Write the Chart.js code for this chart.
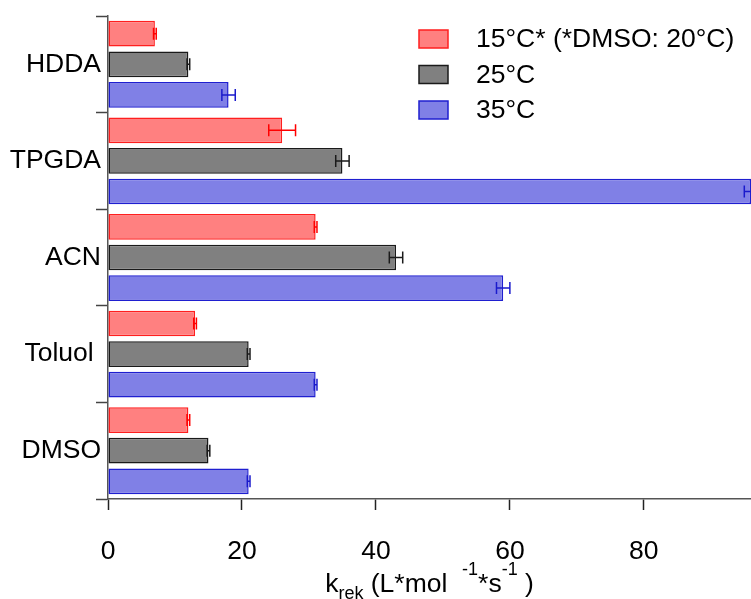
<!DOCTYPE html>
<html>
<head>
<meta charset="utf-8">
<script src="https://cdn.jsdelivr.net/npm/chart.js@4.4.0/dist/chart.umd.min.js"></script>
<style>
  html, body { margin: 0; padding: 0; background: #fff; }
  #wrap { width: 751px; height: 599px; }
</style>
</head>
<body>
<div id="wrap"><canvas id="rateChart" width="751" height="599"></canvas></div>
<script>
// Solvents and rate constants k_rek per temperature
const solvents = ['HDDA', 'TPGDA', 'ACN', 'Toluol ', 'DMSO'];
const k15 = [7, 26, 31, 13, 12];
const k25 = [12, 35, 43, 21, 15];
const k35 = [18, 96, 59, 31, 21];
// standard deviations
const err15 = [0.2, 2, 0.2, 0.2, 0.2];
const err25 = [0.2, 1, 1, 0.2, 0.2];
const err35 = [1, 1, 1, 0.2, 0.2];
const xTicks = [0, 20, 40, 60, 80];
const xMax = 96;

const FONT = "'Liberation Sans', Arial, Helvetica, sans-serif";
const SIZE = 26.5;
Chart.defaults.font.family = FONT;
Chart.defaults.color = '#000';

// horizontal error bars with end caps
const errorBars = {
    id: 'errorBars',
    afterDatasetsDraw(chart) {
        const { ctx, chartArea: area } = chart;
        const x = chart.scales.x;
        ctx.save();
        ctx.beginPath();
        ctx.rect(area.left, area.top, area.right - area.left, area.bottom - area.top);
        ctx.clip();
        chart.data.datasets.forEach((ds, i) => {
            chart.getDatasetMeta(i).data.forEach((bar, j) => {
                const v = ds.data[j], e = ds.errors[j];
                const x0 = x.getPixelForValue(v - e);
                const x1 = x.getPixelForValue(v + e);
                const y = bar.y, h = 6;
                ctx.strokeStyle = ds.errColor;
                ctx.lineWidth = 1.5;
                ctx.beginPath();
                ctx.moveTo(x0, y); ctx.lineTo(x1, y);
                ctx.moveTo(x0, y - h); ctx.lineTo(x0, y + h);
                ctx.moveTo(x1, y - h); ctx.lineTo(x1, y + h);
                ctx.stroke();
            });
        });
        ctx.restore();
    }
};

// legend in the upper right of the plot
const legendBox = {
    id: 'legendBox',
    afterDraw(chart) {
        const ctx = chart.ctx;
        ctx.save();
        ctx.font = SIZE + 'px ' + FONT;
        ctx.textBaseline = 'middle';
        ctx.textAlign = 'left';
        chart.data.datasets.forEach((ds, i) => {
            const cy = 39 + i * 35.5;
            ctx.fillStyle = ds.backgroundColor;
            ctx.fillRect(419, cy - 9, 29, 18);
            ctx.strokeStyle = ds.borderColor;
            ctx.lineWidth = 1.5;
            ctx.strokeRect(419, cy - 9, 29, 18);
            ctx.fillStyle = '#000';
            ctx.fillText(ds.label, 476, cy + 1);
        });
        ctx.restore();
    }
};

// x axis title with subscript and superscripts
const axisTitle = {
    id: 'axisTitle',
    afterDraw(chart) {
        const ctx = chart.ctx;
        const area = chart.chartArea;
        const runs = [
            { t: 'k', s: SIZE, dy: 0 },
            { t: 'rek', s: 18, dy: 7 },
            { t: ' (L*mol  ', s: SIZE, dy: 0 },
            { t: '-1', s: 18, dy: -17 },
            { t: '*s', s: SIZE, dy: 0 },
            { t: '-1', s: 18, dy: -17 },
            { t: ' )', s: SIZE, dy: 0 }
        ];
        ctx.save();
        ctx.fillStyle = '#000';
        ctx.textBaseline = 'alphabetic';
        let total = 0;
        runs.forEach(r => { ctx.font = r.s + 'px ' + FONT; r.w = ctx.measureText(r.t).width; total += r.w; });
        let cx = (area.left + area.right) / 2 - total / 2;
        const base = 592;
        runs.forEach(r => {
            ctx.font = r.s + 'px ' + FONT;
            ctx.fillText(r.t, cx, base + r.dy);
            cx += r.w;
        });
        ctx.restore();
    }
};

const ctx = document.getElementById('rateChart').getContext('2d');
const rateChart = new Chart(ctx, {
    type: 'bar',
    data: {
        labels: solvents,
        datasets: [
            { label: '15°C* (*DMSO: 20°C)', data: k15, errors: err15,
              backgroundColor: '#ff8080', borderColor: '#ff1f1f', errColor: '#ff0000' },
            { label: '25°C', data: k25, errors: err25,
              backgroundColor: '#808080', borderColor: '#1a1a1a', errColor: '#1a1a1a' },
            { label: '35°C', data: k35, errors: err35,
              backgroundColor: '#8080e6', borderColor: '#1f1fd0', errColor: '#1a1acc' }
        ]
    },
    options: {
        indexAxis: 'y',
        responsive: false,
        animation: false,
        layout: { padding: { top: 16, right: 0, left: 0, bottom: 0 } },
        datasets: {
            bar: { categoryPercentage: 0.95, barPercentage: 0.84, borderWidth: 1.5, borderSkipped: false }
        },
        scales: {
            x: {
                min: 0,
                max: xMax,
                afterFit: s => { s.height = 100; },
                afterBuildTicks: s => { s.ticks = xTicks.map(v => ({ value: v })); },
                ticks: { font: { size: SIZE }, padding: 26, maxRotation: 0 },
                grid: { drawOnChartArea: false, tickLength: 11, tickWidth: 1.5, tickColor: '#222' },
                border: { color: '#555', width: 1.5 }
            },
            y: {
                afterFit: s => { s.width = 108; },
                ticks: { font: { size: SIZE }, padding: -5 },
                grid: { offset: true, drawOnChartArea: false, tickLength: 12, tickWidth: 1.5, tickColor: '#444' },
                border: { color: '#555', width: 1.5 }
            }
        },
        plugins: { legend: { display: false }, tooltip: { enabled: false } }
    },
    plugins: [errorBars, legendBox, axisTitle]
});
</script>
</body>
</html>
